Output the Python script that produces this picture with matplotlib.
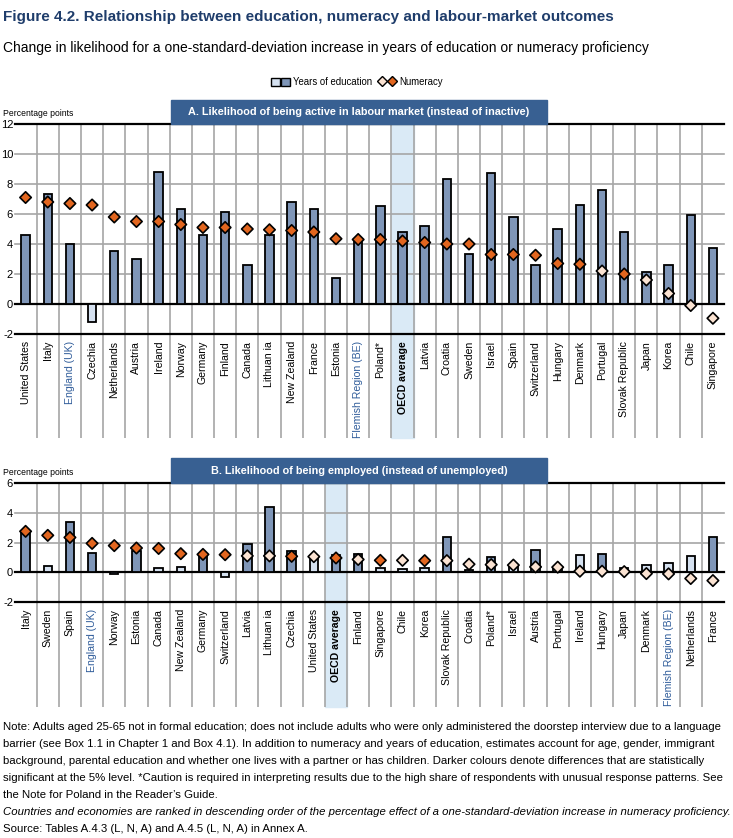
import numpy as np
import matplotlib
matplotlib.use("Agg")
import matplotlib.pyplot as plt
import matplotlib.transforms as mtransforms
from matplotlib.patches import Rectangle, Patch
from matplotlib.lines import Line2D
from matplotlib.legend_handler import HandlerTuple
from matplotlib import font_manager

# fonts: narrow Arial-like if available
names = {f.name for f in font_manager.fontManager.ttflist}
NARROW = "Liberation Sans Narrow" if "Liberation Sans Narrow" in names else "Liberation Sans"
plt.rcParams["font.family"] = [NARROW, "DejaVu Sans"]

# === Data ===
countries_a = ["United States", "Italy", "England (UK)", "Czechia", "Netherlands", "Austria",
               "Ireland", "Norway", "Germany", "Finland", "Canada", "Lithuan ia", "New Zealand",
               "France", "Estonia", "Flemish Region (BE)", "Poland*", "OECD average", "Latvia",
               "Croatia", "Sweden", "Israel", "Spain", "Switzerland", "Hungary", "Denmark",
               "Portugal", "Slovak Republic", "Japan", "Korea", "Chile", "Singapore"]
edu_a = [4.6, 7.3, 4.0, -1.2, 3.5, 3.0, 8.8, 6.3, 4.6, 6.1, 2.6, 4.6, 6.8, 6.3, 1.7, 4.3,
         6.5, 4.8, 5.2, 8.3, 3.3, 8.7, 5.8, 2.6, 5.0, 6.6, 7.6, 4.8, 2.1, 2.6, 5.9, 3.7]
edu_a_sig = [1, 1, 1, 0, 1, 1, 1, 1, 1, 1, 1, 1, 1, 1, 1, 1,
             1, 1, 1, 1, 1, 1, 1, 1, 1, 1, 1, 1, 1, 1, 1, 1]
num_a = [7.1, 6.8, 6.7, 6.6, 5.8, 5.5, 5.5, 5.3, 5.1, 5.1, 5.0, 4.95, 4.9, 4.8, 4.35, 4.3,
         4.3, 4.2, 4.1, 4.0, 4.0, 3.3, 3.3, 3.25, 2.7, 2.65, 2.2, 2.0, 1.6, 0.7, -0.1, -0.95]
num_a_sig = [1, 1, 1, 1, 1, 1, 1, 1, 1, 1, 1, 1, 1, 1, 1, 1,
             1, 1, 1, 1, 1, 1, 1, 1, 1, 1, 0, 1, 0, 0, 0, 0]

countries_b = ["Italy", "Sweden", "Spain", "England (UK)", "Norway", "Estonia", "Canada",
               "New Zealand", "Germany", "Switzerland", "Latvia", "Lithuan ia", "Czechia",
               "United States", "OECD average", "Finland", "Singapore", "Chile", "Korea",
               "Slovak Republic", "Croatia", "Poland*", "Israel", "Austria", "Portugal",
               "Ireland", "Hungary", "Japan", "Denmark", "Flemish Region (BE)", "Netherlands",
               "France"]
edu_b = [2.8, 0.4, 3.4, 1.3, -0.15, 1.45, 0.3, 0.35, 1.2, -0.3, 1.87, 4.37, 1.45, 1.07,
         1.18, 1.2, 0.27, 0.2, 0.27, 2.37, 0.13, 1.02, 0.4, 1.5, 0.3, 1.13, 1.22, 0.27,
         0.51, 0.64, 1.09, 2.38]
edu_b_sig = [1, 0, 1, 1, 1, 1, 0, 0, 1, 0, 1, 1, 1, 0, 1, 1, 0, 0, 0, 1, 1, 1, 0, 1,
             1, 0, 1, 0, 0, 0, 0, 1]
num_b = [2.75, 2.48, 2.34, 1.94, 1.79, 1.63, 1.6, 1.25, 1.2, 1.18, 1.1, 1.1, 1.07, 1.05,
         0.96, 0.86, 0.8, 0.8, 0.78, 0.78, 0.54, 0.51, 0.48, 0.36, 0.34, 0.07, 0.07, 0.04,
         -0.09, -0.11, -0.42, -0.56]
num_b_sig = [1, 1, 1, 1, 1, 1, 1, 1, 1, 1, 0, 0, 1, 0, 1, 0, 1, 0, 1, 0, 0, 0, 0, 0,
             0, 0, 0, 0, 0, 0, 0, 0]

# colours
DARK_BAR, LIGHT_BAR = "#7F96B8", "#D5E1F0"
DARK_DIA, LIGHT_DIA = "#E2661F", "#FBE3D2"
GRID = "#A6A6A6"
HILITE = "#DAEAF6"
BOX = "#386092"
NAVY = "#1F3D6B"
BLUE_LBL = "#2F5C9A"

W, H = 733, 838
fig = plt.figure(figsize=(W / 100, H / 100), dpi=100)


def fx(px):
    return px / W


def fy(py):
    return 1 - py / H


def panel(top, bottom, lbl_bottom, cats, edu, edu_sig, num, num_sig, ylim, yticks, title,
          box_top):
    ax = fig.add_axes([fx(14.5), fy(bottom), fx(724) - fx(14.5), (bottom - top) / H])
    n = len(cats)
    x = np.arange(n)
    ax.set_xlim(-0.5, n - 0.5)
    ax.set_ylim(*ylim)
    for s in ax.spines.values():
        s.set_visible(False)

    for t in yticks:
        black = t in (ylim[0], 0, ylim[1])
        ax.axhline(t, color="black" if black else GRID, lw=1.6 if black else 1.2,
                   zorder=2 if black else 1, clip_on=False)

    trans = mtransforms.blended_transform_factory(ax.transData, ax.transAxes)
    ext = (lbl_bottom - bottom) / (bottom - top)
    ax.vlines(x[:-1] + 0.5, -ext, 1, transform=trans, color=GRID, lw=1.2, zorder=1,
              clip_on=False)
    i = cats.index("OECD average")
    ax.add_patch(Rectangle((i - 0.5, -ext), 1, 1 + ext, transform=trans, color=HILITE,
                           zorder=0, clip_on=False))

    ax.bar(x, edu, width=0.38, color=[DARK_BAR if s else LIGHT_BAR for s in edu_sig],
           edgecolor="black", lw=1.3, zorder=3)
    ax.scatter(x, num, marker="D", s=34, c=[DARK_DIA if s else LIGHT_DIA for s in num_sig],
               edgecolors="black", linewidths=1.2, zorder=4)

    ax.set_yticks(yticks)
    ax.set_yticklabels([str(t) for t in yticks])
    ax.tick_params(axis="y", length=0, pad=1, labelsize=8)
    ax.set_xticks(x)
    ax.set_xticklabels(cats, rotation=90, fontsize=7.6)
    ax.tick_params(axis="x", length=0, pad=5)
    for lbl in ax.get_xticklabels():
        if lbl.get_text() in ("England (UK)", "Flemish Region (BE)"):
            lbl.set_color(BLUE_LBL)
        if lbl.get_text() == "OECD average":
            lbl.set_fontweight("bold")

    fig.add_artist(Rectangle((fx(171), fy(top)), fx(547) - fx(171), (top - box_top) / H,
                             transform=fig.transFigure, color=BOX, zorder=5))
    fig.text(fx(359), fy((top + box_top) / 2), title, color="white", fontsize=7.8,
             fontweight="bold", ha="center", va="center", zorder=6)
    fig.text(fx(3), fy(top - 11), "Percentage points", fontsize=6.2, va="center")
    return ax


panel(124, 334, 438, countries_a, edu_a, edu_a_sig, num_a, num_a_sig, (-2, 12),
      [-2, 0, 2, 4, 6, 8, 10, 12],
      "A. Likelihood of being active in labour market (instead of inactive)", 100)
panel(483, 602, 707, countries_b, edu_b, edu_b_sig, num_b, num_b_sig, (-2, 6),
      [-2, 0, 2, 4, 6],
      "B. Likelihood of being employed (instead of unemployed)", 458)

# titles
fig.text(fx(3), fy(17), "Figure 4.2. Relationship between education, numeracy and labour-market outcomes",
         fontsize=11, fontweight="bold", color=NAVY, va="center")
fig.text(fx(3), fy(48), "Change in likelihood for a one-standard-deviation increase in years of education or numeracy proficiency",
         fontsize=10, va="center")

# legend
h_edu = (Patch(fc=LIGHT_BAR, ec="black", lw=1), Patch(fc=DARK_BAR, ec="black", lw=1))
h_num = (Line2D([], [], marker="D", ls="", ms=5, mfc=LIGHT_DIA, mec="black", mew=1),
         Line2D([], [], marker="D", ls="", ms=5, mfc=DARK_DIA, mec="black", mew=1))
fig.legend([h_edu, h_num], ["Years of education", "Numeracy"],
           handler_map={tuple: HandlerTuple(ndivide=None, pad=0.15)},
           loc="center", bbox_to_anchor=(fx(357), fy(82)), ncol=2, frameon=False,
           fontsize=6.9, handlelength=2.0, handleheight=0.9, handletextpad=0.3,
           columnspacing=0.6)

# notes
notes = [
    ("Note: Adults aged 25-65 not in formal education; does not include adults who were only administered the doorstep interview due to a language", "normal"),
    ("barrier (see Box 1.1 in Chapter 1 and Box 4.1). In addition to numeracy and years of education, estimates account for age, gender, immigrant", "normal"),
    ("background, parental education and whether one lives with a partner or has children. Darker colours denote differences that are statistically", "normal"),
    ("significant at the 5% level. *Caution is required in interpreting results due to the high share of respondents with unusual response patterns. See", "normal"),
    ("the Note for Poland in the Reader\u2019s Guide.", "normal"),
    ("Countries and economies are ranked in descending order of the percentage effect of a one-standard-deviation increase in numeracy proficiency.", "italic"),
    ("Source: Tables A.4.3 (L, N, A) and A.4.5 (L, N, A) in Annex A.", "normal"),
]
for k, (line, style) in enumerate(notes):
    fig.text(fx(3), fy(727 + k * 17), line, fontsize=8.2, style=style, va="center")

fig.savefig("out.png", dpi=100)
